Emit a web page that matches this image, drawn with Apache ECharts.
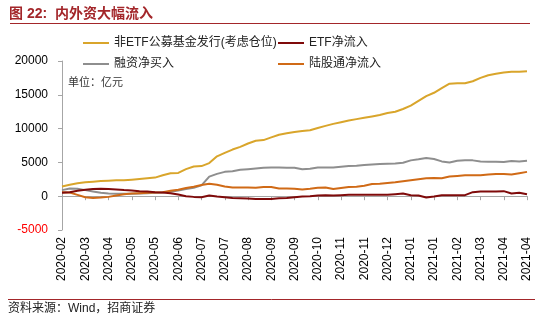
<!DOCTYPE html>
<html>
<head>
<meta charset="utf-8">
<script src="https://cdn.jsdelivr.net/npm/echarts@6/dist/echarts.min.js"></script>
<style>
html,body{margin:0;padding:0;background:#fff;}
#chart{width:550px;height:321px;}
</style>
</head>
<body>
<div id="chart"></div>
<script>
var dates = [
'2020-02-28','2020-03-06','2020-03-13','2020-03-20','2020-03-27','2020-04-03','2020-04-10','2020-04-17','2020-04-24',
'2020-05-01','2020-05-08','2020-05-15','2020-05-22','2020-05-29','2020-06-05','2020-06-12','2020-06-19','2020-06-26',
'2020-07-03','2020-07-10','2020-07-17','2020-07-24','2020-07-31','2020-08-07','2020-08-14','2020-08-21','2020-08-28',
'2020-09-04','2020-09-11','2020-09-18','2020-09-25','2020-10-02','2020-10-09','2020-10-16','2020-10-23','2020-10-30',
'2020-11-06','2020-11-13','2020-11-20','2020-11-27','2020-12-04','2020-12-11','2020-12-18','2020-12-25',
'2021-01-01','2021-01-08','2021-01-15','2021-01-22','2021-01-29','2021-02-05','2021-02-12','2021-02-19','2021-02-26',
'2021-03-05','2021-03-12','2021-03-19','2021-03-26','2021-04-02','2021-04-09','2021-04-16','2021-04-23'
];
var fundIssue = [1450,1700,1900,2050,2150,2250,2300,2350,2350,2450,2550,2650,2750,3100,3400,3450,4000,4400,4450,4900,
5900,6400,6900,7300,7800,8200,8300,8700,9100,9300,9500,9650,9750,10100,10400,10700,10950,11200,11400,11600,
11800,12000,12300,12500,12900,13400,14100,14800,15300,16000,16650,16700,16700,17000,17500,17900,18100,18300,18400,18400,18500];
var etfFlow = [500,600,800,950,1050,1100,1050,1000,900,850,750,700,600,550,450,250,0,-100,-150,100,
-50,-150,-250,-300,-350,-400,-400,-400,-300,-250,-150,-50,0,100,150,100,150,200,200,200,
200,200,200,300,400,150,100,-200,-50,150,150,150,150,600,700,700,700,750,400,500,300];
var marginBuy = [900,1150,1100,900,700,500,400,350,350,350,400,450,500,550,650,850,1050,1250,1600,2900,
3300,3600,3700,3900,4000,4100,4200,4250,4250,4200,4200,4000,4050,4250,4250,4250,4350,4450,4500,4600,
4700,4750,4800,4850,4950,5300,5450,5650,5500,5150,5000,5250,5300,5300,5150,5100,5100,5050,5200,5150,5250];
var northFlow = [600,550,200,-150,-250,-200,-100,100,300,400,450,500,550,600,800,950,1200,1400,1650,1850,
1700,1450,1300,1300,1300,1250,1350,1350,1150,1150,1100,1000,1100,1250,1300,1050,1200,1350,1400,1550,
1800,1850,1950,2050,2200,2350,2500,2650,2700,2650,2900,3000,3100,3100,3100,3200,3300,3300,3200,3400,3600];
var seriesNames = ['非ETF公募基金发行(考虑仓位)','ETF净流入','融资净买入','陆股通净流入'];
var yTicks = {min:-5000, max:20000, interval:5000};

var colors = ['#D9A52B','#7F0A0A','#8E8E8E','#D06A16'];
var seriesData = [fundIssue, etfFlow, marginBuy, northFlow];
var cjk = '"Liberation Sans", Arial, "Noto Sans CJK SC", sans-serif';

var chart = echarts.init(document.getElementById('chart'), null, {renderer:'canvas'});

var series = seriesNames.map(function(n,i){
  return {
    name:n, type:'line', data:seriesData[i], xAxisIndex:0, yAxisIndex:0,
    symbol:'none', smooth:false, lineStyle:{color:colors[i], width:2}, itemStyle:{color:colors[i]},
    z: [2,4,3,3][i]
  };
});

var legendPos = [[83,37],[278,37],[83,58],[278,58]];
var legends = seriesNames.map(function(n,i){
  return {
    data:[n], left:legendPos[i][0], top:legendPos[i][1], icon:'rect', itemWidth:26, itemHeight:2,
    itemGap:0, padding:0, textStyle:{fontSize:12, color:'#222', fontFamily:cjk}, selectedMode:false
  };
});

chart.setOption({
  animation:false,
  backgroundColor:'#fff',
  title:{text:'图 22:  内外资大幅流入', left:9, top:7, padding:0,
    textStyle:{fontSize:14, fontWeight:'bold', color:'#A3262A', fontFamily:cjk}},
  legend:legends,
  grid:{left:62, right:23, top:61, bottom:91, containLabel:false},
  xAxis:[{
    type:'category', data:dates, boundaryGap:false,
    axisLine:{show:true, onZero:true, lineStyle:{color:'#A6A6A6', width:1}},
    axisTick:{show:true, interval:2, length:4, inside:false, lineStyle:{color:'#A6A6A6'}},
    axisLabel:{show:false}, splitLine:{show:false}
  },{
    type:'category', data:dates, boundaryGap:false, position:'bottom',
    axisLine:{show:false, onZero:false}, axisTick:{show:false},
    axisLabel:{show:true, interval:2, rotate:90, margin:7, fontSize:12, color:'#000',
      fontFamily:'"Liberation Sans", Arial, sans-serif',
      formatter:function(v){return v.slice(0,7);}},
    splitLine:{show:false}
  }],
  yAxis:[{
    type:'value', min:yTicks.min, max:yTicks.max, interval:yTicks.interval,
    axisLine:{show:true, lineStyle:{color:'#A6A6A6', width:1}},
    axisTick:{show:true, length:4, lineStyle:{color:'#A6A6A6'}},
    splitLine:{show:false},
    axisLabel:{fontSize:12, margin:14, fontFamily:'"Liberation Sans", Arial, sans-serif',
      formatter:function(v){return String(v);},
      color:function(v){return Number(v) < 0 ? '#FF0000' : '#000';}}
  }],
  graphic:[
    {type:'line', shape:{x1:10, y1:23.5, x2:530, y2:23.5}, style:{stroke:'#A3262A', lineWidth:1}, silent:true},
    {type:'line', shape:{x1:8, y1:299.5, x2:535, y2:299.5}, style:{stroke:'#A3262A', lineWidth:1}, silent:true},
    {type:'text', left:68, top:76, style:{text:'单位：亿元', fill:'#333', font:'11px "Noto Sans CJK SC"'}, silent:true},
    {type:'text', left:8, top:303, style:{text:'资料来源：Wind，招商证券', fill:'#222', font:'12px "Liberation Sans", "Noto Sans CJK SC"'}, silent:true}
  ],
  series:series
});
</script>
</body>
</html>
